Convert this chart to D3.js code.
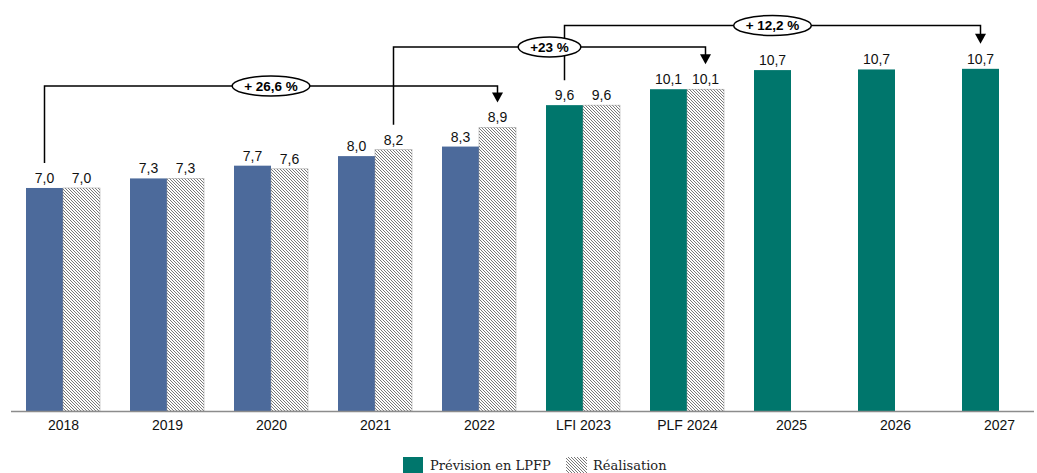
<!DOCTYPE html>
<html>
<head>
<meta charset="utf-8">
<script src="https://cdn.jsdelivr.net/npm/d3@7"></script>
<style>
html,body{margin:0;padding:0;background:#fff;}
svg{display:block;}
</style>
</head>
<body>
<svg id="chart" width="1037" height="473"></svg>
<script>
// ---- data ----
const categories = ["2018","2019","2020","2021","2022","LFI 2023","PLF 2024","2025","2026","2027"];
const prevision  = [7.0, 7.3, 7.7, 8.0, 8.3, 9.6, 10.1, 10.7, 10.72, 10.74];
const realisation = [7.0, 7.3, 7.6, 8.2, 8.9, 9.6, 10.1, null, null, null];
const phase = ["exec","exec","exec","exec","exec","lpfp","lpfp","lpfp","lpfp","lpfp"];
const annotations = [
  {label:"+ 26,6 %", from:"2018", fromSeries:"prev", to:"2022", toSeries:"real"},
  {label:"+23 %", from:"2021", fromSeries:"real", to:"PLF 2024", toSeries:"real"},
  {label:"+ 12,2 %", from:"LFI 2023", fromSeries:"prev", to:"2027", toSeries:"prev"}
];
const legendLabels = ["Prévision en LPFP","Réalisation"];

// ---- layout ----
const svg = d3.select("#chart");
const baseY = 411;
const barW = 37;
const colors = {exec:"#4c6a9b", lpfp:"#00766c"};
const fmt = v => d3.format(".1f")(v).replace(".", ",");

const x = d3.scalePoint().domain(categories).range([63, 999]);
const y = d3.scaleLinear().domain([0, 12.9]).range([baseY, 0]);

const defs = svg.append("defs");
const pat = defs.append("pattern").attr("id","hatch")
  .attr("patternUnits","userSpaceOnUse").attr("width",3).attr("height",3);
pat.append("rect").attr("width",3).attr("height",3).attr("fill","#fff");
pat.append("path").attr("d","M0,0L3,3M-1,2L1,4M2,-1L4,1")
  .attr("stroke","#6a6a6a").attr("stroke-width",0.9);

const rows = categories.map((c,i)=>({c, p:prevision[i], r:realisation[i], ph:phase[i]}));

// bars
svg.append("g").selectAll("rect").data(rows).join("rect")
  .attr("x", d=>x(d.c)-barW).attr("y", d=>y(d.p))
  .attr("width", barW).attr("height", d=>baseY-y(d.p))
  .attr("fill", d=>colors[d.ph]);

svg.append("g").selectAll("rect").data(rows.filter(d=>d.r!=null)).join("rect")
  .attr("x", d=>x(d.c)).attr("y", d=>y(d.r))
  .attr("width", barW).attr("height", d=>baseY-y(d.r))
  .attr("fill", "url(#hatch)").attr("stroke","#9a9a9a").attr("stroke-width",0.5);

// value labels
const lab = svg.append("g").attr("font-family","Liberation Sans, Arial, sans-serif")
  .attr("font-size",14).attr("fill","#111").attr("text-anchor","middle");
lab.selectAll("text.p").data(rows).join("text").attr("class","p")
  .attr("x", d=>x(d.c)-barW/2).attr("y", d=>y(d.p)-5).text(d=>fmt(d.p));
lab.selectAll("text.r").data(rows.filter(d=>d.r!=null)).join("text").attr("class","r")
  .attr("x", d=>x(d.c)+barW/2).attr("y", d=>y(d.r)-5).text(d=>fmt(d.r));

// axis
const axis = svg.append("g").attr("transform",`translate(0,${baseY})`)
  .call(d3.axisBottom(x).tickSize(0).tickPadding(0));
axis.select(".domain").remove();
axis.selectAll("text").attr("font-family","Liberation Sans, Arial, sans-serif")
  .attr("font-size",14).attr("fill","#111").attr("dy",0).attr("y",19);
svg.append("line").attr("x1",11).attr("x2",1034).attr("y1",baseY+0.5).attr("y2",baseY+0.5)
  .attr("stroke","#8c8c8c").attr("stroke-width",1.3);

// annotations
const levels = [86, 47, 25.5];
const gap = 25;
function anchor(cat, series){
  const i = categories.indexOf(cat);
  if(series==="prev") return {x:x(cat)-barW/2, top:y(prevision[i])};
  return {x:x(cat)+barW/2, top:y(realisation[i])};
}
const ag = svg.append("g");
annotations.forEach((a,k)=>{
  const s = anchor(a.from,a.fromSeries), t = anchor(a.to,a.toSeries);
  const ly = levels[k];
  const tipY = t.top-gap;
  ag.append("path")
    .attr("d",`M${s.x},${s.top-gap} V${ly} H${t.x} V${tipY-9}`)
    .attr("fill","none").attr("stroke","#000").attr("stroke-width",1.5);
  ag.append("path")
    .attr("d",`M${t.x-5.5},${tipY-10} L${t.x+5.5},${tipY-10} L${t.x},${tipY} Z`)
    .attr("fill","#000");
});
annotations.forEach((a,k)=>{
  const s = anchor(a.from,a.fromSeries), t = anchor(a.to,a.toSeries);
  const ly = levels[k], cx=(s.x+t.x)/2;
  const tx = ag.append("text").attr("x",cx).attr("y",ly+4.8)
    .attr("text-anchor","middle").attr("font-family","Liberation Sans, Arial, sans-serif")
    .attr("font-weight","bold").attr("font-size",13.5).text(a.label);
  const w = tx.node().getComputedTextLength();
  ag.insert("ellipse", () => tx.node()).attr("cx",cx).attr("cy",ly)
    .attr("rx",w/2+12).attr("ry",10)
    .attr("fill","#fff").attr("stroke","#000").attr("stroke-width",1.5);
});

// legend
const lg = svg.append("g").attr("font-family","'DejaVu Serif', 'Liberation Serif', serif")
  .attr("font-size",13).attr("fill","#222");
lg.append("rect").attr("x",403).attr("y",457).attr("width",20).attr("height",17).attr("fill",colors.lpfp);
lg.append("text").attr("x",430).attr("y",470).text(legendLabels[0]);
lg.append("rect").attr("x",566).attr("y",457).attr("width",21).attr("height",17).attr("fill","url(#hatch)");
lg.append("text").attr("x",593).attr("y",470).text(legendLabels[1]);
</script>
</body>
</html>
